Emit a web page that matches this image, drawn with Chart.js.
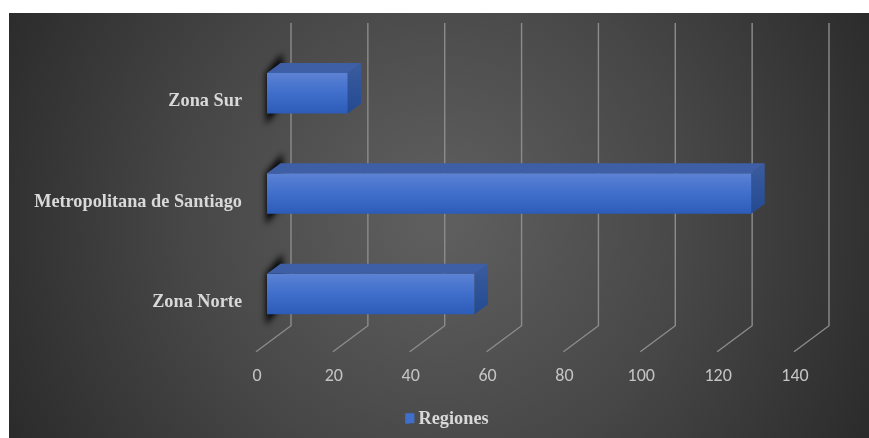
<!DOCTYPE html>
<html>
<head>
<meta charset="utf-8">
<script src="https://cdn.jsdelivr.net/npm/chart.js@4"></script>
<style>
html, body { margin: 0; padding: 0; background: #fff; overflow: hidden; }
#box { position: absolute; left: 9px; top: 13px; width: 860px; height: 425px; }
</style>
</head>
<body>
<div id="box"><canvas id="grafico"></canvas></div>
<script>
const categorias = ["Zona Sur", "Metropolitana de Santiago", "Zona Norte"];
const regiones = [21, 126, 54];
const rotuloSerie = "Regiones";
const eixoMin = 0;
const eixoMax = 140;
const eixoPasso = 20;

// perspectiva do "3D" em pixels
const fundoX = 13.5, fundoY = 10;   // profundidade da barra
const paredeX = 24, paredeTopo = 20, paredeBase = 18.5; // parede de fundo
const chaoX = 35, chaoY = 26;       // linha diagonal do chao
const larguraBarra = 0.403;

const fundo3d = {
    id: "fundo3d",
    beforeDraw(chart) {
        const { ctx, width, height } = chart;
        const g = ctx.createRadialGradient(width * 0.5, height * 0.48, 20, width * 0.5, height * 0.48, width * 0.56);
        g.addColorStop(0, "#5e5e5e");
        g.addColorStop(0.5, "#474747");
        g.addColorStop(1, "#2b2b2b");
        ctx.save();
        ctx.fillStyle = g;
        ctx.fillRect(0, 0, width, height);
        ctx.restore();
    },
    afterLayout(chart) {
        // legenda nao fica centrada no original
        chart.legend.left += 40;
        chart.legend.right += 40;
    },
    beforeDatasetsDraw(chart) {
        const { ctx, chartArea, scales } = chart;
        const x = scales.x;
        ctx.save();
        ctx.strokeStyle = "#8c8c8c";
        ctx.lineWidth = 1.4;
        x.ticks.forEach(t => {
            const px = x.getPixelForValue(t.value) + paredeX;
            ctx.beginPath();
            ctx.moveTo(px, chartArea.top - paredeTopo);
            ctx.lineTo(px, chartArea.bottom - paredeBase);
            ctx.lineTo(px - chaoX, chartArea.bottom - paredeBase + chaoY);
            ctx.stroke();
        });
        // sombra atras das barras
        chart.getDatasetMeta(0).data.forEach(b => {
            const topo = b.y - b.height / 2;
            const base = topo + b.height;
            ctx.save();
            ctx.filter = "blur(3px)";
            ctx.fillStyle = "#000";
            ctx.beginPath();
            ctx.moveTo(b.base - 1, topo);
            ctx.lineTo(b.base + fundoX + 2, topo - 20);
            ctx.lineTo(b.base + fundoX + 2, base - fundoY);
            ctx.lineTo(b.base - 1, base + 11);
            ctx.closePath();
            ctx.fill();
            ctx.restore();
        });
        ctx.restore();
    },
    afterDatasetsDraw(chart) {
        const { ctx } = chart;
        ctx.save();
        chart.getDatasetMeta(0).data.forEach(b => {
            const topo = b.y - b.height / 2;
            const base = topo + b.height;
            // face de cima
            ctx.fillStyle = "#3e5fa6";
            ctx.beginPath();
            ctx.moveTo(b.base, topo);
            ctx.lineTo(b.base + fundoX, topo - fundoY);
            ctx.lineTo(b.x + fundoX, topo - fundoY);
            ctx.lineTo(b.x, topo);
            ctx.closePath();
            ctx.fill();
            // face lateral
            const lat = ctx.createLinearGradient(0, topo - fundoY, 0, base);
            lat.addColorStop(0, "#3b5c9f");
            lat.addColorStop(1, "#234a92");
            ctx.fillStyle = lat;
            ctx.beginPath();
            ctx.moveTo(b.x, topo);
            ctx.lineTo(b.x + fundoX, topo - fundoY);
            ctx.lineTo(b.x + fundoX, base - fundoY);
            ctx.lineTo(b.x, base);
            ctx.closePath();
            ctx.fill();
        });
        ctx.restore();
    },
    afterDraw(chart) {
        // completa o quadrado da legenda: a lib deixa o texto longe demais
        const { ctx, legend } = chart;
        const hit = legend.legendHitBoxes[0];
        if (!hit) return;
        ctx.save();
        ctx.fillStyle = "#3f6ecb";
        ctx.fillRect(hit.left, hit.top + 3.5, 9, 10);
        ctx.restore();
    }
};

function gradienteBarra(context) {
    const { chart, dataIndex } = context;
    if (!chart.chartArea || dataIndex === undefined) return "#3f6ecb";
    const y = chart.scales.y;
    const meio = y.getPixelForValue(dataIndex);
    const meiaAltura = y.height / categorias.length * larguraBarra / 2;
    const g = chart.ctx.createLinearGradient(0, meio - meiaAltura, 0, meio + meiaAltura);
    g.addColorStop(0, "#5c82d4");
    g.addColorStop(0.5, "#3f6ecb");
    g.addColorStop(1, "#2c5cb8");
    return g;
}

new Chart(document.getElementById("grafico"), {
    type: "bar",
    data: {
        labels: categorias,
        datasets: [{
            label: rotuloSerie,
            data: regiones,
            backgroundColor: gradienteBarra,
            borderWidth: 0,
            barPercentage: larguraBarra,
            categoryPercentage: 1
        }]
    },
    plugins: [fundo3d],
    options: {
        indexAxis: "y",
        responsive: true,
        maintainAspectRatio: false,
        animation: false,
        layout: { padding: { left: 0, right: 64, top: 30, bottom: 0 } },
        plugins: {
            tooltip: { enabled: false },
            legend: {
                position: "bottom",
                labels: {
                    color: "#d9d9d9",
                    boxWidth: 4,
                    boxHeight: 10,
                    padding: 4,
                    font: { family: "'Liberation Serif'", size: 18.3, weight: "bold" },
                    generateLabels() {
                        return [{ text: rotuloSerie, fillStyle: "#3f6ecb", strokeStyle: "#3f6ecb", lineWidth: 0, fontColor: "#d9d9d9" }];
                    }
                }
            }
        },
        scales: {
            x: {
                min: eixoMin,
                max: eixoMax,
                ticks: {
                    stepSize: eixoPasso,
                    color: "#c4c4c4",
                    labelOffset: -10,
                    padding: 13.5,
                    maxRotation: 0,
                    font: { family: "Calibri, Carlito, 'Open Sans'", size: 18 }
                },
                grid: { display: false },
                border: { display: false },
                afterFit(scale) { scale.height = 61.5; }
            },
            y: {
                ticks: {
                    color: "#d9d9d9",
                    padding: 17,
                    labelOffset: 8.5,
                    font: { family: "'Liberation Serif'", size: 18.3, weight: "bold" }
                },
                grid: { display: false },
                border: { display: false },
                afterFit(scale) { scale.width = 258; }
            }
        }
    }
});
</script>
</body>
</html>
